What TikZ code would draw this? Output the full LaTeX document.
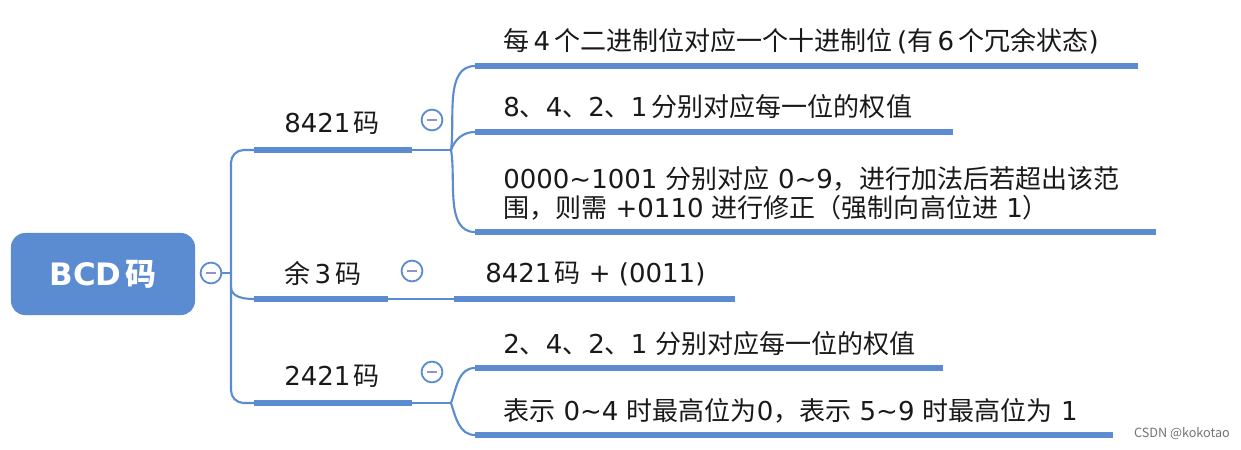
\documentclass[tikz,border=0pt]{standalone}
\usepackage{fontspec}
\setmainfont{Noto Sans CJK SC}
\newfontfamily\lf{DejaVu Sans}
\usepackage{tikz}
\definecolor{mblue}{HTML}{5B8BD0}
\definecolor{mminus}{HTML}{8F93C8}
\newcommand{\tld}{\textasciitilde}
\newcommand{\la}[1]{{\lf#1}}

\begin{document}
\begin{tikzpicture}[x=0.025cm, y=-0.025cm, mblue,
  root/.style={rounded corners=10pt, fill=mblue, text=white, font=\fontsize{22}{26}\selectfont\bfseries, minimum width=4.6cm, minimum height=2.05cm},
  fold/.style={circle, draw=mblue, line width=1.3pt, fill=white, minimum size=0.52cm, inner sep=0pt, path picture={\draw[mminus, line width=1.2pt] ([xshift=-3.4pt]path picture bounding box.center) -- ++(6.8pt,0);}},
  branch/.style={text=black!90, font=\fontsize{18.5}{22}\selectfont},
  leaf/.style={text=black!90, font=\fontsize{18.5}{20.6}\selectfont, anchor=west, align=left, inner sep=0pt},
  thin/.style={line width=1.5pt},
  thick/.style={line width=4.2pt}]
\useasboundingbox (0,0) rectangle (1241,449);
\node[root] at (103,274) (bcd) {\la{BCD}\hspace{0.12em}码};
\node[fold] at (211,273) (f0) {};
\coordinate (t0) at (231,273);
\coordinate (b1s) at (254,150); \coordinate (b1e) at (412,150); \coordinate (h1) at (451,150);
\coordinate (b2s) at (254,299); \coordinate (b2e) at (388,299);
\coordinate (b3s) at (254,403); \coordinate (b3e) at (412,403); \coordinate (h3) at (451,403);
\coordinate (c11s) at (475,66);  \coordinate (c11e) at (1138,66);
\coordinate (c12s) at (475,132); \coordinate (c12e) at (953,132);
\coordinate (c13s) at (475,232); \coordinate (c13e) at (1156,232);
\coordinate (c21s) at (454,299); \coordinate (c21e) at (735,299);
\coordinate (c31s) at (475,368); \coordinate (c31e) at (943,368);
\coordinate (c32s) at (475,435); \coordinate (c32e) at (1113,435);
\draw[thin] (f0) -- (t0);
\draw[thin, rounded corners=9pt] (b1s) -| (t0) |- (b3s);
\draw[thin] (231,287) to[out=-90, in=180] (b2s);
\draw[thick] (b1s) -- (b1e);
\draw[thick] (b2s) -- (b2e);
\draw[thick] (b3s) -- (b3e);
\draw[thin] (b1e) -- (h1);
\draw[thin] (b2e) -- (c21s);
\draw[thin] (b3e) -- (h3);
\draw[thin] (h1) to[out=82, in=180, looseness=0.9] (c11s);
\draw[thin] (h1) to[out=70, in=180] (c12s);
\draw[thin] (h1) to[out=-80, in=180, looseness=0.9] (c13s);
\draw[thin] (h3) to[out=70, in=180] (c31s);
\draw[thin] (h3) to[out=-72, in=180] (c32s);
\draw[thick] (c11s) -- (c11e);
\draw[thick] (c12s) -- (c12e);
\draw[thick] (c13s) -- (c13e);
\draw[thick] (c21s) -- (c21e);
\draw[thick] (c31s) -- (c31e);
\draw[thick] (c32s) -- (c32e);
\node[branch] at (332,123) (k8421) {\la{8421}\hspace{0.12em}码};
\node[branch] at (323,273) (kex3) {余\la{\,3\,}码};
\node[branch] at (332,376) (k2421) {\la{2421}\hspace{0.12em}码};
\node[fold] at (432,120) (f1) {};
\node[fold] at (412,271) (f2) {};
\node[fold] at (432,372) (f3) {};
\node[leaf] at (503,41) (l11) {每\la{\,4\,}个二进制位对应一个十进制位\la{\,(}有\la{\,6\,}个冗余状态\la{)}};
\node[leaf] at (503,107) (l12) {\la{8}、\la{4}、\la{2}、\la{1\,}分别对应每一位的权值};
\node[leaf] at (503,193) (l13) {\la{0000\tld1001 }分别对应\la{ 0\tld9}，进行加法后若超出该范\\围，则需\la{ +0110 }进行修正（强制向高位进\la{ 1}）};
\node[leaf] at (485,274) (l21) {\la{8421}\hspace{0.12em}码\la{ + (0011)}};
\node[leaf] at (503,344) (l31) {\la{2}、\la{4}、\la{2}、\la{1 }分别对应每一位的权值};
\node[leaf] at (503,411) (l32) {表示\la{ 0\tld4 }时最高位为\la{0}，表示\la{ 5\tld9 }时最高位为\la{ 1}};
\node[text=black!55, font=\fontsize{9}{10}\selectfont] at (1182,434) (wm) {CSDN @kokotao};
\end{tikzpicture}
\end{document}
